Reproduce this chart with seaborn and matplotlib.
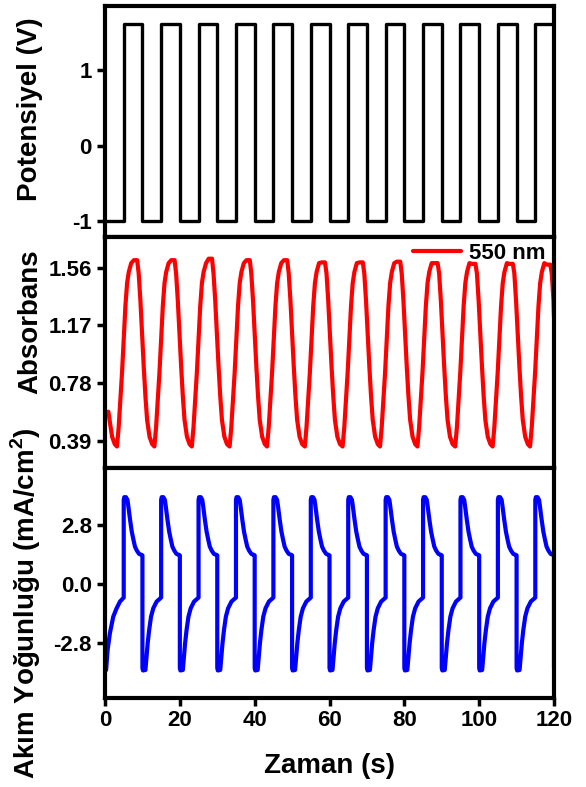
import pandas as pd
import seaborn as sns
import matplotlib.pyplot as plt

# potential steps (V)
pot_t = [0.3, 5, 10, 15, 20, 25, 30, 35, 40, 45, 50, 55, 60,
         65, 70, 75, 80, 85, 90, 95, 100, 105, 110, 115, 120]
pot_v = [-1, 1.61, -1, 1.61, -1, 1.61, -1, 1.61, -1, 1.61, -1, 1.61, -1,
         1.61, -1, 1.61, -1, 1.61, -1, 1.61, -1, 1.61, -1, 1.61, 1.61]

# absorbance at 550 nm: lead-in, then one cycle per trough
abs_lead_t = [0.9, 1.35, 1.9, 2.6]
abs_lead_a = [0.585, 0.506, 0.416, 0.366]
abs_trough_t = [3.2, 13.2, 23.2, 33.3, 43.3, 53.4, 63.5, 73.5, 83.5, 93.6, 103.6, 113.6]
abs_peak = [1.61, 1.61, 1.62, 1.61, 1.61, 1.595, 1.595, 1.60, 1.59, 1.585, 1.585, 1.58]
abs_phase = [0, 0.45, 0.9, 1.35, 1.8, 2.25, 2.7, 3.15, 3.8, 4.5, 5.4,
             5.8, 6.25, 6.7, 7.15, 7.6, 8.05, 8.7, 9.4]
abs_shape = [0.35, 0.48, 0.66, 0.85, 1.07, 1.30, 1.455, 1.53, 1.59, 1.61, 1.61,
             1.52, 1.34, 1.115, 0.89, 0.69, 0.53, 0.416, 0.366]
abs_end = 1.22

# current density (mA/cm2)
cur_lead_t = [0.3, 0.7, 1.3, 2.2, 3.1, 4.0]
cur_lead_v = [-4.1, -3.14, -2.35, -1.56, -1.16, -0.84]
cur_jump_t = [5, 15, 25, 35, 45, 55, 65, 75, 85, 95, 105, 115]
cur_drop_t = [10, 20, 30, 40, 50, 60, 70, 80, 90, 100, 110, 120]
cur_on_phase = [0, 0, 0.15, 0.6, 1.0, 1.25, 1.7, 2.15, 2.6, 3.0, 3.5, 4.1, 4.8, 5.0]
cur_on_v = [-0.65, 4.0, 4.13, 4.13, 4.0, 3.68, 3.05, 2.49, 2.1, 1.78, 1.59, 1.43, 1.38, 1.36]
cur_off_phase = [0, 0.15, 0.8, 1.1, 1.4, 1.8, 2.3, 2.9, 3.8]
cur_off_v = [-4.0, -4.12, -4.1, -3.46, -2.83, -2.19, -1.56, -1.16, -0.84]

abs_t, abs_a = list(abs_lead_t), list(abs_lead_a)
for t0, pk in zip(abs_trough_t, abs_peak):
    vals = list(abs_shape)
    vals[9] = vals[10] = pk
    for p, v in zip(abs_phase, vals):
        if t0 + p < 119.9:
            abs_t.append(t0 + p)
            abs_a.append(v)
abs_t.append(120)
abs_a.append(abs_end)

cur_t, cur_v = list(cur_lead_t), list(cur_lead_v)
for j, d in zip(cur_jump_t, cur_drop_t):
    for p, v in zip(cur_on_phase, cur_on_v):
        cur_t.append(j + p)
        cur_v.append(v)
    phases = cur_off_phase if d < 120 else cur_off_phase[:1]
    for p, v in zip(phases, cur_off_v):
        cur_t.append(d + p)
        cur_v.append(v)

pot = pd.DataFrame({'t': pot_t, 'v': pot_v})
absb = pd.DataFrame({'t': abs_t, 'a': abs_a})
cur = pd.DataFrame({'t': cur_t, 'i': cur_v})

sns.set_style('ticks')
plt.rcParams['font.family'] = ['Liberation Sans', 'DejaVu Sans']
plt.rcParams['font.weight'] = 'bold'
plt.rcParams['axes.labelweight'] = 'bold'
plt.rcParams['axes.unicode_minus'] = False
plt.rcParams['mathtext.fontset'] = 'custom'
plt.rcParams['mathtext.bf'] = 'Liberation Sans:bold'
plt.rcParams['mathtext.rm'] = 'Liberation Sans:bold'
for k in ['text.color', 'axes.labelcolor', 'xtick.color', 'ytick.color', 'axes.edgecolor']:
    plt.rcParams[k] = 'black'

fig = plt.figure(figsize=(5.86, 7.87), dpi=100)
L, W, H = 0.1792, 0.7662, 0.2933
ax1 = fig.add_axes([L, 0.6991, W, H])
ax2 = fig.add_axes([L, 0.4058, W, H])
ax3 = fig.add_axes([L, 0.1126, W, H])

sns.lineplot(data=pot, x='t', y='v', ax=ax1, color='black', lw=2.4,
             estimator=None, sort=False, drawstyle='steps-post')
sns.lineplot(data=absb, x='t', y='a', ax=ax2, color='#ff0000', lw=3,
             estimator=None, sort=False, label='550 nm')
sns.lineplot(data=cur, x='t', y='i', ax=ax3, color='#0000ff', lw=3,
             estimator=None, sort=False)

for ax in (ax1, ax2, ax3):
    ax.set_xlim(0, 120)
    for s in ax.spines.values():
        s.set_linewidth(3)
        s.set_visible(True)
        s.set_color('black')
    ax.tick_params(axis='y', length=5.5, width=2.5, labelsize=16, pad=4, colors='black')
    ax.tick_params(axis='x', length=5.5, width=2.5, labelsize=16, pad=3, colors='black')
    ax.set_xlabel('')

ax1.tick_params(bottom=False, labelbottom=False)
ax2.tick_params(bottom=False, labelbottom=False)

ax1.set_ylim(-1.207, 1.85)
ax1.set_yticks([-1, 0, 1])
ax1.set_yticklabels(['-1', '0', '1'])

ax2.set_ylim(0.207, 1.768)
ax2.set_yticks([0.39, 0.78, 1.17, 1.56])
ax2.set_yticklabels(['0.39', '0.78', '1.17', '1.56'])

ax3.set_ylim(-5.45, 5.54)
ax3.set_yticks([-2.8, 0.0, 2.8])
ax3.set_yticklabels(['-2.8', '0.0', '2.8'])
ax3.set_xticks([0, 20, 40, 60, 80, 100, 120])

ax1.set_ylabel('Potensiyel (V)', fontsize=20, fontweight='bold')
ax2.set_ylabel('Absorbans', fontsize=20, fontweight='bold')
ax3.set_ylabel('Akım Yoğunluğu (mA/cm$^{\\mathbf{2}}$)', fontsize=20, fontweight='bold')
ax3.set_xlabel('Zaman (s)', fontsize=20, fontweight='bold', labelpad=16)
ax1.yaxis.set_label_coords(-0.137, 0.553)
ax2.yaxis.set_label_coords(-0.137, 0.632)
ax3.yaxis.set_label_coords(-0.137, 0.412)

ax2.legend(loc='center right', bbox_to_anchor=(1.0, 0.9285), frameon=False,
           borderaxespad=0, handlelength=2.16, handletextpad=0.33,
           prop={'size': 16, 'weight': 'bold'})

fig.savefig('out.png', dpi=100)
